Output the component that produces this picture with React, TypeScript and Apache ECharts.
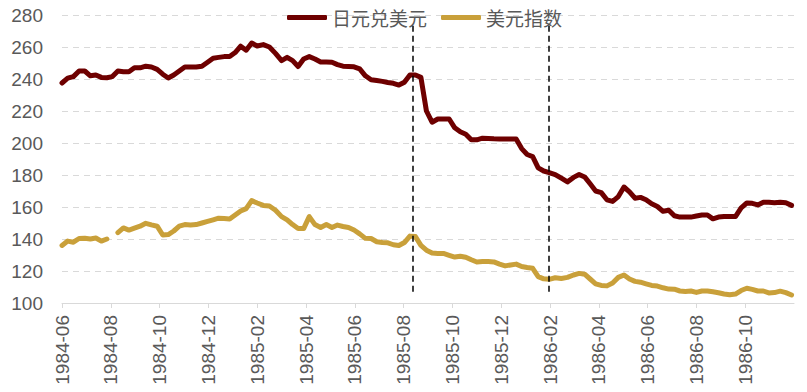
import React, { useEffect, useRef } from "react";
import * as echarts from "echarts";

// Weekly observations starting 1984-06-01
const START_DATE = "1984-06-01";
const SERIES_NAMES = ["日元兑美元", "美元指数"];

const jpyPerUsd: number[] = [
  237.5, 240.5, 241.5, 245, 245, 242, 242.5, 241, 240.8, 241.5,
  245, 244.5, 244.5, 247, 247, 248, 247.5, 246, 243, 240.6,
  242.5, 245, 247.5, 247.5, 247.5, 248, 250.5, 253, 253.5, 254,
  254, 256.5, 260.5, 258, 262.5, 260.6, 261.5, 260, 256, 251.5,
  253.5, 251.5, 247.8, 252.5, 254, 252.5, 250.6, 250.6, 250.5, 249,
  248, 247.8, 247.6, 246.3, 242, 239.5, 239, 238.5, 237.8, 237.3,
  236.2, 238, 242.5, 242.5, 241, 220, 213, 215, 215, 215,
  209.5, 207, 205.5, 202, 202, 203, 202.8, 202.6, 202.5, 202.5,
  202.5, 202.5, 196.5, 192.8, 191.5, 184.5, 182.5, 181.5, 180.3, 178,
  175.7, 178.5, 180.3, 178.8, 174.5, 170, 169, 164.5, 163.5, 166.5,
  172.5, 169.5, 165.5, 166, 164.5, 162, 160.3, 157.3, 158, 154.5,
  153.7, 153.7, 153.7, 154.4, 155, 155, 152.6, 153.7, 154, 154,
  154, 159.5, 162.5, 162.3, 161.3, 163, 163, 162.7, 163, 162.6,
  161,
];

const dollarIndex: (number | null)[] = [
  136, 138.7, 138, 140.3, 140.5, 140, 140.6, 138.7, 140, null,
  144, 146.9, 145.6, 146.8, 148, 149.8, 148.8, 148, 142.5, 142.8,
  145, 148, 149, 148.8, 149, 150, 151, 152, 153, 152.8,
  152.5, 155, 157.5, 159, 164, 162.5, 161, 160.6, 158, 154,
  152, 149, 146.5, 146.5, 154, 149, 147.2, 149, 147.2, 148.7,
  147.8, 147.2, 145.6, 143.2, 140.4, 140.3, 138.3, 137.8, 137.6, 136.4,
  135.9, 137.8, 141.8, 141.5, 136, 133, 131.2, 131, 131, 129.8,
  128.7, 129.2, 128.6, 127, 125.6, 125.9, 125.9, 125.7, 124.3, 123.2,
  123.8, 124.3, 122.8, 122.2, 121.7, 116.5, 115.1, 114.8, 115.8, 115.3,
  116, 117.5, 118.5, 118, 115, 112, 111, 110.7, 112.5, 116,
  117.5, 115, 113.5, 113, 112, 111, 110.6, 109.5, 108.7, 108.6,
  107.5, 107.2, 107.5, 106.6, 107.5, 107.5, 107, 106.4, 105.6, 105.1,
  105.6, 107.8, 109.2, 108.5, 107.5, 107.5, 106.3, 106.5, 107.4, 106.5,
  105,
];

// x-axis tick labels (every two months)
const tickLabels: string[] = [
  "1984-06", "1984-08", "1984-10", "1984-12", "1985-02", "1985-04", "1985-06",
  "1985-08", "1985-10", "1985-12", "1986-02", "1986-04", "1986-06", "1986-08", "1986-10",
];
const AXIS_END = "1986-12-01";

// event markers (dashed vertical lines)
const eventDates: string[] = ["1985-08-12", "1986-01-30"];
const yTicks = { min: 100, max: 280, interval: 20 };

const BASE_YEAR = 1984;
const BASE_MONTH = 6;

function daysInMonth(y: number, m: number) {
  return new Date(Date.UTC(y, m, 0)).getUTCDate();
}
function toMonthIndex(dateStr: string): number {
  const [y, m, d] = dateStr.split("-").map(Number);
  return (y - BASE_YEAR) * 12 + (m - BASE_MONTH) + ((d || 1) - 1) / daysInMonth(y, m);
}
function weeklyDates(n: number): string[] {
  const [y, m, d] = START_DATE.split("-").map(Number);
  const t0 = Date.UTC(y, m - 1, d);
  const out: string[] = [];
  for (let i = 0; i < n; i++) {
    const dt = new Date(t0 + i * 7 * 86400000);
    out.push(dt.toISOString().slice(0, 10));
  }
  return out;
}
function monthLabel(v: number): string {
  const total = BASE_MONTH - 1 + Math.round(v);
  const y = BASE_YEAR + Math.floor(total / 12);
  const m = (total % 12) + 1;
  return `${y}-${m < 10 ? "0" + m : m}`;
}

export default function App() {
  const ref = useRef<HTMLDivElement>(null);

  useEffect(() => {
    if (!ref.current) return;
    const chart = echarts.init(ref.current, null, { renderer: "svg" });
    const dates = weeklyDates(jpyPerUsd.length);
    const xs = dates.map(toMonthIndex);
    const tickVals = tickLabels.map((t) => toMonthIndex(t + "-01"));
    const labelFont = "'Liberation Sans', Arial, sans-serif";
    const markData = eventDates.map((d) => {
      const x = toMonthIndex(d);
      return [{ coord: [x, 107] }, { coord: [x, 274] }];
    });

    chart.setOption({
      animation: false,
      backgroundColor: "#ffffff",
      grid: { left: 62, right: 13, top: 15, bottom: 89, containLabel: false },
      legend: {
        left: 282,
        top: 3,
        itemWidth: 40,
        itemHeight: 5,
        itemGap: 14,
        icon: "roundRect",
        textStyle: {
          color: "#595959",
          fontSize: 19,
          fontFamily: "'Noto Sans CJK SC', sans-serif",
        },
        data: SERIES_NAMES,
      },
      xAxis: {
        type: "value",
        min: 0,
        max: toMonthIndex(AXIS_END),
        axisLine: { show: true, lineStyle: { color: "#d9d9d9", width: 1 } },
        axisTick: {
          show: true,
          length: 5,
          lineStyle: { color: "#d9d9d9" },
          customValues: tickVals,
        },
        axisLabel: {
          rotate: 90,
          margin: 12,
          color: "#595959",
          fontSize: 19,
          fontFamily: labelFont,
          customValues: tickVals,
          formatter: (v: number) => monthLabel(v),
        },
        splitLine: { show: false },
      },
      yAxis: {
        type: "value",
        min: yTicks.min,
        max: yTicks.max,
        interval: yTicks.interval,
        axisLine: { show: false },
        axisTick: { show: false },
        axisLabel: {
          color: "#595959",
          fontSize: 19,
          fontFamily: labelFont,
          margin: 19,
        },
        splitLine: {
          show: true,
          lineStyle: { color: "#d9d9d9", type: [6, 5], width: 1 },
        },
      },
      series: [
        {
          name: SERIES_NAMES[0],
          type: "line",
          symbol: "none",
          color: "#6e0000",
          lineStyle: { width: 5, color: "#6e0000", join: "round", cap: "round" },
          data: jpyPerUsd.map((v, i) => [xs[i], v]),
          z: 3,
          markLine: {
            silent: true,
            symbol: ["none", "none"],
            label: { show: false },
            lineStyle: { color: "#000000", type: [6, 4], width: 1.5 },
            data: markData,
          },
        },
        {
          name: SERIES_NAMES[1],
          type: "line",
          symbol: "none",
          color: "#c9a03a",
          connectNulls: false,
          lineStyle: { width: 5, color: "#c9a03a", join: "round", cap: "round" },
          data: dollarIndex.map((v, i) => [xs[i], v === null ? "-" : v]),
          z: 2,
        },
      ],
    });

    return () => chart.dispose();
  }, []);

  return (
    <div
      ref={ref}
      style={{ position: "fixed", left: 0, top: 0, width: 807, height: 392, background: "#fff" }}
    />
  );
}
